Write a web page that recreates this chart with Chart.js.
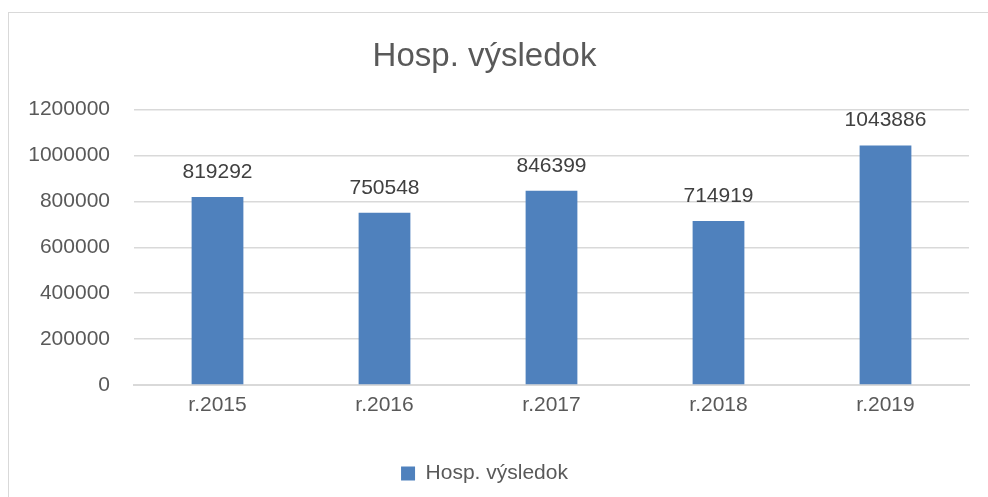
<!DOCTYPE html>
<html lang="sk">
<head>
<meta charset="UTF-8">
<title>Hosp. výsledok</title>
<script src="https://cdn.jsdelivr.net/npm/chart.js"></script>
<style>
  html, body { margin: 0; padding: 0; background: #fff; }
  #wrap { position: relative; width: 988px; height: 497px; overflow: hidden; }
  #frame {
    position: absolute; left: 8px; top: 12px; width: 1100px; height: 600px;
    border: 1px solid #d9d9d9; box-sizing: border-box;
  }
  canvas { position: absolute; left: 0; top: 0; }
</style>
</head>
<body>
<div id="wrap">
  <div id="frame"></div>
  <canvas id="chart" width="988" height="497"></canvas>
</div>
<script>
const categories = ['r.2015', 'r.2016', 'r.2017', 'r.2018', 'r.2019'];
const values = [819292, 750548, 846399, 714919, 1043886];
const seriesName = 'Hosp. výsledok';
const yMax = 1200000;
const yStep = 200000;

const FONT = '"Liberation Sans", Arial, sans-serif';

// popisky hodnot nad stlpcami
const valueLabels = {
  id: 'valueLabels',
  afterDatasetsDraw(chart) {
    const ctx = chart.ctx;
    const meta = chart.getDatasetMeta(0);
    ctx.save();
    ctx.font = '21px ' + FONT;
    ctx.fillStyle = '#404040';
    ctx.textAlign = 'center';
    ctx.textBaseline = 'middle';
    meta.data.forEach((bar, i) => {
      ctx.fillText(String(values[i]), bar.x, bar.y - 25);
    });
    ctx.restore();
  }
};

new Chart(document.getElementById('chart'), {
  type: 'bar',
  data: {
    labels: categories,
    datasets: [{
      label: seriesName,
      data: values,
      backgroundColor: '#4f81bd',
      borderWidth: 0,
      categoryPercentage: 1,
      barPercentage: 0.31
    }]
  },
  options: {
    responsive: false,
    animation: false,
    layout: { padding: { left: 0, right: 19, top: 0, bottom: 3 } },
    scales: {
      x: {
        grid: { display: false, drawTicks: false },
        border: { display: true, color: '#d9d9d9', width: 2 },
        ticks: { color: '#595959', font: { family: FONT, size: 21 }, padding: 8 },
        afterFit(scale) { scale.height = 62; }
      },
      y: {
        min: 0,
        max: yMax,
        grid: { color: '#d9d9d9', lineWidth: 1.5, drawTicks: false },
        border: { display: false },
        ticks: {
          stepSize: yStep,
          color: '#595959',
          font: { family: FONT, size: 21 },
          padding: 24,
          callback: (v) => String(v)
        },
        afterFit(scale) { scale.width = 134; }
      }
    },
    plugins: {
      title: {
        display: true,
        text: seriesName,
        color: '#595959',
        font: { family: FONT, size: 33, weight: 'normal' },
        padding: { top: 37, bottom: 33 }
      },
      legend: {
        position: 'bottom',
        labels: {
          color: '#595959',
          font: { family: FONT, size: 21 },
          boxWidth: 14,
          boxHeight: 14,
          padding: 16
        }
      },
      tooltip: { enabled: false }
    }
  },
  plugins: [valueLabels]
});
</script>
</body>
</html>
